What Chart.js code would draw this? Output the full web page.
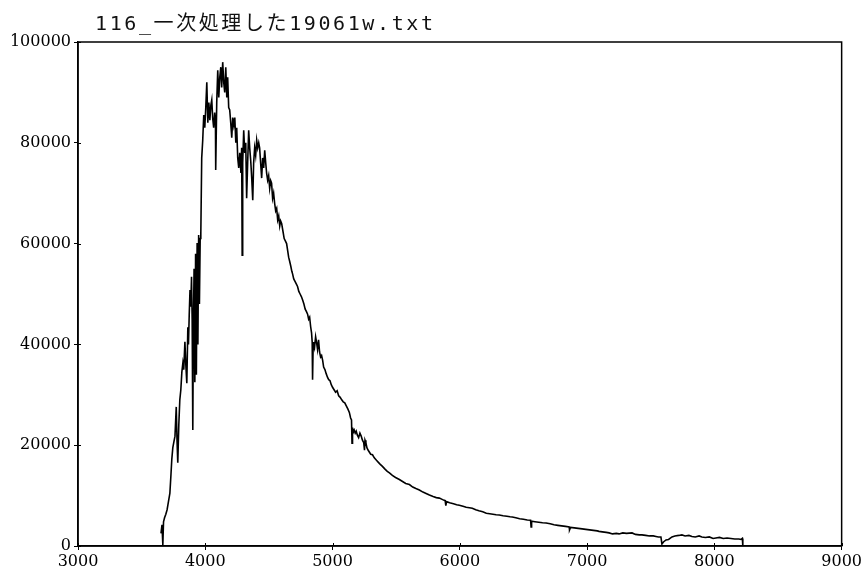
<!DOCTYPE html>
<html>
<head>
<meta charset="utf-8">
<script src="https://cdn.jsdelivr.net/npm/chart.js@4/dist/chart.umd.min.js"></script>
<style>
html,body{margin:0;padding:0;background:#fff;}
#wrap{width:864px;height:580px;position:relative;}
</style>
</head>
<body>
<div id="wrap"><canvas id="c" width="864" height="580"></canvas></div>
<script>
const chartTitle = "116_一次処理した19061w.txt";
const xTicks = [3000, 4000, 5000, 6000, 7000, 8000, 9000];
const yTicks = [0, 20000, 40000, 60000, 80000, 100000];

const wavelengths = [
3652, 3660, 3666, 3667, 3672, 3680, 3690, 3700, 3712, 3722,
3730, 3737, 3745, 3753, 3762, 3772, 3778, 3784, 3792, 3800,
3808, 3816, 3824, 3831, 3840, 3847, 3855, 3863, 3868, 3874,
3880, 3886, 3892, 3897, 3902, 3906, 3912, 3918, 3924, 3930,
3936, 3942, 3948, 3954, 3960, 3965, 3972, 3980, 3988, 3996,
4004, 4012, 4020, 4028, 4036, 4044, 4051, 4058, 4066, 4074,
4080, 4082, 4090, 4098, 4106, 4114, 4122, 4129, 4137, 4145,
4153, 4161, 4169, 4176, 4184, 4192, 4200, 4208, 4216, 4224,
4232, 4240, 4247, 4255, 4263, 4271, 4280, 4286, 4290, 4294,
4302, 4310, 4318, 4325, 4333, 4341, 4349, 4357, 4365, 4373,
4380, 4388, 4396, 4404, 4412, 4420, 4427, 4435, 4443, 4451,
4459, 4467, 4475, 4482, 4490, 4498, 4506, 4514, 4521, 4529,
4537, 4545, 4553, 4561, 4569, 4577, 4585, 4592, 4600, 4610,
4620, 4630, 4639, 4648, 4655, 4663, 4672, 4680, 4686, 4695,
4705, 4715, 4725, 4735, 4745, 4755, 4765, 4775, 4785, 4795,
4804, 4812, 4820, 4828, 4835, 4840, 4843, 4847, 4852, 4859,
4867, 4875, 4882, 4890, 4898, 4906, 4914, 4922, 4930, 4940,
4950, 4960, 4970, 4980, 4990, 5000, 5012, 5024, 5036, 5048,
5060, 5072, 5084, 5096, 5108, 5120, 5132, 5142, 5149, 5153,
5157, 5162, 5170, 5178, 5186, 5195, 5205, 5215, 5225, 5235,
5245, 5251, 5255, 5262, 5270, 5280, 5290, 5300, 5314, 5328,
5345, 5360, 5375, 5392, 5410, 5430, 5447, 5470, 5495, 5525,
5550, 5575, 5604, 5630, 5655, 5682, 5710, 5735, 5761, 5790,
5815, 5839, 5865, 5885, 5890, 5896, 5920, 5950, 5975, 5985,
5996, 6025, 6050, 6075, 6098, 6125, 6150, 6180, 6208, 6235,
6260, 6285, 6310, 6340, 6370, 6395, 6412, 6440, 6470, 6500,
6530, 6556, 6560, 6564, 6590, 6620, 6650, 6678, 6710, 6740,
6770, 6800, 6830, 6859, 6862, 6870, 6900, 6930, 6961, 6990,
7020, 7050, 7080, 7094, 7120, 7150, 7173, 7200, 7230, 7251,
7280, 7310, 7353, 7380, 7410, 7431, 7460, 7490, 7520, 7541,
7560, 7580, 7588, 7600, 7620, 7640, 7667, 7690, 7720, 7745,
7770, 7800, 7824, 7850, 7880, 7902, 7930, 7960, 7990, 8012,
8040, 8070, 8100, 8130, 8160, 8192, 8210, 8220, 8223, 8224
];

const counts = [
2500, 4200, 3000, 200, 4800, 5600, 6300, 7200, 9000, 10500,
14000, 17200, 19500, 20600, 21800, 27600, 21000, 16500, 24000, 29000,
31000, 34500, 36300, 35000, 40500, 36000, 32300, 43400, 40000, 46000,
50800, 47500, 53400, 45000, 23000, 42000, 55000, 32500, 58000, 34000,
60100, 40000, 61700, 48000, 61000, 62000, 77000, 80500, 85500, 83000,
87000, 92000, 84000, 88000, 84500, 87500, 88500, 85000, 83000, 86000,
84000, 74600, 88000, 94400, 89000, 93000, 95000, 91000, 96000, 92000,
90000, 95000, 89000, 93000, 87000, 86500, 84000, 81000, 85000, 83500,
85000, 80000, 83000, 77000, 75000, 78000, 74000, 79000, 57700, 76000,
82500, 78000, 80000, 69000, 76000, 82500, 79000, 76500, 73000, 68600,
76000, 79000, 77500, 80500, 79000, 80000, 79000, 76000, 73000, 77000,
75000, 78500, 76000, 74000, 72600, 73500, 71000, 72500, 72000, 69000,
70000, 68000, 66500, 67000, 64700, 65500, 63500, 64500, 64000, 62500,
61000, 60500, 60000, 58500, 57300, 56500, 55500, 54500, 54000, 53000,
52500, 52000, 51500, 50500, 50000, 49500, 48800, 48000, 47000, 46500,
46000, 45000, 45400, 43500, 42300, 40500, 33000, 39000, 40500, 39500,
41500, 40300, 39000, 40900, 38500, 37500, 37800, 36900, 35500, 35000,
34200, 33500, 33000, 32800, 32000, 31500, 31000, 30500, 30800, 29800,
29500, 29000, 28600, 28400, 27800, 27200, 26500, 25400, 25000, 20400,
23500, 22500, 23000, 22400, 22800, 22000, 21500, 22400, 21800, 21000,
20500, 19000, 21000, 20500, 19500, 19000, 18600, 18200, 18100, 17500,
17000, 16600, 16200, 15800, 15300, 14800, 14500, 14000, 13600, 13200,
12800, 12400, 12200, 11700, 11400, 11100, 10700, 10400, 10100, 9800,
9600, 9500, 9200, 9000, 8000, 8800, 8600, 8400, 8200, 8150,
8100, 7900, 7700, 7600, 7500, 7200, 7000, 6800, 6500, 6400,
6300, 6200, 6150, 6000, 5900, 5800, 5750, 5600, 5400, 5300,
5150, 5100, 3800, 4900, 4800, 4700, 4600, 4560, 4400, 4200,
4100, 4000, 3900, 3800, 3200, 3700, 3600, 3500, 3400, 3300,
3200, 3100, 3000, 2900, 2800, 2700, 2600, 2400, 2500, 2400,
2600, 2500, 2600, 2300, 2200, 2200, 2100, 2000, 2000, 1900,
1800, 1800, 400, 800, 1200, 1300, 1800, 2000, 2100, 2200,
2000, 2100, 1900, 1800, 2000, 1800, 1700, 1800, 1500, 1600,
1700, 1500, 1600, 1500, 1400, 1400, 1300, 1500, 1000, 0
];

const points = wavelengths.map((w, i) => ({ x: w, y: counts[i] }));

const framePlugin = {
  id: 'frame',
  afterDraw(chart) {
    const { ctx, chartArea: a } = chart;
    ctx.save();
    ctx.strokeStyle = '#000';
    ctx.lineWidth = 1.5;
    ctx.strokeRect(a.left, a.top, a.right - a.left, a.bottom - a.top);
    ctx.lineWidth = 1;
    const xs = chart.scales.x, ys = chart.scales.y;
    xTicks.forEach(v => {
      const px = Math.round(xs.getPixelForValue(v)) + 0.5;
      ctx.beginPath(); ctx.moveTo(px, a.bottom); ctx.lineTo(px, a.bottom - 3); ctx.stroke();
    });
    yTicks.forEach(v => {
      const py = Math.round(ys.getPixelForValue(v)) + 0.5;
      ctx.beginPath(); ctx.moveTo(a.left, py); ctx.lineTo(a.left + 3, py); ctx.stroke();
    });
    ctx.restore();
  },
  beforeDraw(chart) {
    const { ctx } = chart;
    ctx.save();
    ctx.fillStyle = '#111';
    ctx.font = '20px "DejaVu Sans Mono", "Noto Sans CJK JP", monospace';
    ctx.textBaseline = 'alphabetic';
    ctx.textAlign = 'left';
    try { ctx.letterSpacing = '2.6px'; } catch (e) {}
    ctx.fillText(chartTitle, 95, 30);
    ctx.restore();
  }
};

new Chart(document.getElementById('c'), {
  type: 'line',
  data: {
    datasets: [{
      data: points,
      borderColor: '#000',
      borderWidth: 1.6,
      pointRadius: 0,
      tension: 0,
      fill: false
    }]
  },
  options: {
    responsive: false,
    animation: false,
    events: [],
    layout: { padding: { top: 42, right: 22, left: 0, bottom: 0 } },
    plugins: { legend: { display: false }, tooltip: { enabled: false }, title: { display: false } },
    scales: {
      x: {
        type: 'linear',
        min: 3000, max: 9000,
        afterBuildTicks(s) { s.ticks = xTicks.map(v => ({ value: v })); },
        afterFit(s) { s.height = 34; },
        grid: { drawOnChartArea: false, tickLength: 4, color: '#000', lineWidth: 1 },
        border: { color: '#000', width: 1.5 },
        ticks: {
          color: '#000', padding: 2, maxRotation: 0,
          font: { family: '"DejaVu Serif", serif', size: 16 },
          callback: v => String(v)
        }
      },
      y: {
        min: 0, max: 100000,
        afterBuildTicks(s) { s.ticks = yTicks.map(v => ({ value: v })); },
        afterFit(s) { s.width = 78; },
        grid: { drawOnChartArea: false, tickLength: 4, color: '#000', lineWidth: 1 },
        border: { color: '#000', width: 1.5 },
        ticks: {
          color: '#000', padding: 3,
          font: { family: '"DejaVu Serif", serif', size: 16 },
          callback: v => String(v)
        }
      }
    }
  },
  plugins: [framePlugin]
});
</script>
</body>
</html>
